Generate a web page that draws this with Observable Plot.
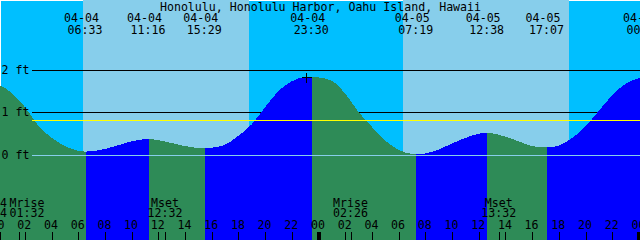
<!DOCTYPE html>
<html><head><meta charset="utf-8">
<script src="https://cdn.jsdelivr.net/npm/d3@7"></script>
<script src="https://cdn.jsdelivr.net/npm/@observablehq/plot@0.6"></script>
<style>
html,body{margin:0;padding:0;background:#fff;overflow:hidden;}
svg{display:block;}
</style></head><body><div id="chart"></div>
<script>
// ---- data ----
const title = "Honolulu, Honolulu Harbor, Oahu Island, Hawaii";

const tideTimes = [
  "2024-04-04T00:00Z","2024-04-04T01:00Z","2024-04-04T02:00Z","2024-04-04T03:00Z","2024-04-04T04:00Z",
  "2024-04-04T05:00Z","2024-04-04T06:00Z","2024-04-04T06:33Z","2024-04-04T07:00Z","2024-04-04T08:00Z",
  "2024-04-04T09:00Z","2024-04-04T10:00Z","2024-04-04T11:00Z","2024-04-04T11:16Z","2024-04-04T12:00Z",
  "2024-04-04T13:00Z","2024-04-04T14:00Z","2024-04-04T15:00Z","2024-04-04T15:29Z","2024-04-04T16:00Z",
  "2024-04-04T17:00Z","2024-04-04T18:00Z","2024-04-04T19:00Z","2024-04-04T20:00Z","2024-04-04T21:00Z",
  "2024-04-04T22:00Z","2024-04-04T23:00Z","2024-04-04T23:30Z","2024-04-05T00:00Z","2024-04-05T01:00Z",
  "2024-04-05T02:00Z","2024-04-05T03:00Z","2024-04-05T04:00Z","2024-04-05T05:00Z","2024-04-05T06:00Z",
  "2024-04-05T07:00Z","2024-04-05T07:19Z","2024-04-05T08:00Z","2024-04-05T09:00Z","2024-04-05T10:00Z",
  "2024-04-05T11:00Z","2024-04-05T12:00Z","2024-04-05T12:38Z","2024-04-05T13:00Z","2024-04-05T14:00Z",
  "2024-04-05T15:00Z","2024-04-05T16:00Z","2024-04-05T17:00Z","2024-04-05T17:07Z","2024-04-05T18:00Z",
  "2024-04-05T19:00Z","2024-04-05T20:00Z","2024-04-05T21:00Z","2024-04-05T22:00Z","2024-04-05T23:00Z",
  "2024-04-06T00:00Z","2024-04-06T00:25Z"
];
const tideLevels = [
  1.66, 1.46, 1.13, 0.69, 0.41,
  0.21, 0.10, 0.08, 0.09, 0.14,
  0.23, 0.32, 0.37, 0.37, 0.35,
  0.28, 0.21, 0.165, 0.155, 0.17,
  0.24, 0.45, 0.72, 1.12, 1.50,
  1.73, 1.83, 1.84, 1.82, 1.74,
  1.44, 1.01, 0.66, 0.34, 0.12,
  0.025, 0.014, 0.035, 0.13, 0.27,
  0.40, 0.50, 0.52, 0.51, 0.43,
  0.32, 0.21, 0.18, 0.18, 0.22,
  0.40, 0.67, 1.04, 1.40, 1.67,
  1.80, 1.82
];

const eventTimes = ["2024-04-04T06:33Z","2024-04-04T11:16Z","2024-04-04T15:29Z","2024-04-04T23:30Z",
                    "2024-04-05T07:19Z","2024-04-05T12:38Z","2024-04-05T17:07Z","2024-04-06T00:25Z"];
const eventTypes = ["L","H","L","H","L","H","L","H"];

const sunrises = ["2024-04-04T06:22Z","2024-04-05T06:21Z"];
const sunsets  = ["2024-04-04T18:47Z","2024-04-05T18:47Z"];

const moonTimes = ["2024-04-04T01:32Z","2024-04-04T12:32Z","2024-04-05T02:26Z","2024-04-05T13:32Z"];
const moonNames = ["Mrise","Mset","Mrise","Mset"];
const edgeFragments = ["4","4"];

const days = ["2024-04-04","2024-04-05","2024-04-06"];
const hourLabels = ["00","02","04","06","08","10","12","14","16","18","20","22"];

const depthLevels = [0, 1, 2];
const meanSeaLevel = 0.82;
const markTime = "2024-04-04T23:06Z";
const markLevel = 1.83;

// ---- colours ----
const NIGHT = "#00BFFF", DAY = "#87CEEB", FLOOD = "#0000FF", EBB = "#2E8B57";

// ---- derived tables ----
const parse = s => new Date(s);
const tide = tideTimes.map((t, i) => ({time: parse(t), level: tideLevels[i]}));
const events = eventTimes.map((t, i) => ({time: parse(t), type: eventTypes[i]}));
const daylight = sunrises.map((s, i) => ({rise: parse(s), set: parse(sunsets[i])}));
const moon = moonTimes.map((t, i) => ({time: parse(t), name: moonNames[i]}));
const fmtDate = d3.utcFormat("%m-%d"), fmtTime = d3.utcFormat("%H:%M");

const xDomain = [parse("2024-04-04T00:08:32Z"), parse("2024-04-06T00:04:56Z")];
const yDomain = [-1.9953, 3.6385];
const inDomain = t => t >= new Date(+xDomain[0] - 3600e3) && t <= new Date(+xDomain[1] + 3600e3);

const hours = [];
days.forEach(day => hourLabels.forEach(h => {
  const t = parse(`${day}T${h}:00Z`);
  if (inDomain(t)) hours.push({time: t, label: h, midnight: h === "00"});
}));

const FONT = "DejaVu Sans Mono";
const FS = 11.6;
const txt = {fontFamily: FONT, fontSize: FS, fill: "black", lineAnchor: "bottom"};

const plot = Plot.plot({
  width: 640, height: 240,
  marginTop: 0, marginRight: 0, marginBottom: 0, marginLeft: 0,
  x: {type: "utc", domain: xDomain, axis: null},
  y: {domain: yDomain, axis: null},
  style: {fontFamily: FONT, fontSize: FS + "px", overflow: "hidden", background: "none"},
  marks: [
    Plot.frame({fill: NIGHT, stroke: "none"}),
    Plot.rect(daylight, {x1: "rise", x2: "set", fill: DAY}),
    Plot.ruleY(depthLevels.filter(d => d > 0), {stroke: "black", insetLeft: 32}),
    Plot.areaY(tide, {x: "time", y1: yDomain[0], y2: "level", fill: "url(#tideFill)", curve: "monotone-x"}),
    Plot.ruleY([0], {stroke: DAY, insetLeft: 32}),
    Plot.ruleY([meanSeaLevel], {stroke: "#FFFF00", insetLeft: 32}),
    Plot.dot([{time: parse(markTime), level: markLevel}], {x: "time", y: "level", symbol: "plus", r: 3.3, stroke: "black", strokeWidth: 1}),
    // title and tide event labels
    Plot.text([title], {...txt, frameAnchor: "top", dy: 10}),
    Plot.text(events, {...txt, x: "time", text: d => fmtDate(d.time), frameAnchor: "top", dy: 21.7, dx: -4.5}),
    Plot.text(events, {...txt, x: "time", text: d => fmtTime(d.time), frameAnchor: "top", dy: 33.3, dx: -1}),
    // depth labels
    Plot.text(depthLevels, {...txt, y: d => d, text: d => `${d} ft`, frameAnchor: "left", textAnchor: "start", dx: 1, dy: 3.5}),
    // moon labels
    Plot.text(moon.slice(0, 1), {...txt, x: "time", text: "name", frameAnchor: "bottom", dy: -34, dx: 8}),
    Plot.text(moon.slice(0, 1), {...txt, x: "time", text: d => fmtTime(d.time), frameAnchor: "bottom", dy: -23.3, dx: 8}),
    Plot.text(moon.slice(1), {...txt, x: "time", text: "name", frameAnchor: "bottom", dy: -34, dx: -1}),
    Plot.text(moon.slice(1), {...txt, x: "time", text: d => fmtTime(d.time), frameAnchor: "bottom", dy: -23.3, dx: -1}),
    Plot.text(edgeFragments.slice(0, 1), {...txt, frameAnchor: "bottom-left", textAnchor: "start", dy: -34, dx: -0.5}),
    Plot.text(edgeFragments.slice(1), {...txt, frameAnchor: "bottom-left", textAnchor: "start", dy: -23.3, dx: -0.5}),
    // hour labels and ticks
    Plot.text(hours, {...txt, x: "time", text: "label", frameAnchor: "bottom", dy: -11.7, dx: -1}),
    Plot.ruleX(hours.filter(d => !d.midnight), {x: "time", stroke: "black", insetTop: 232}),
    Plot.ruleX(hours.filter(d => d.midnight), {x: "time", stroke: "black", strokeWidth: 4, insetTop: 232}),
    Plot.ruleX(moon, {x: "time", stroke: "black", insetTop: 232})
  ]
});

// flood / ebb colouring of the water: horizontal gradient with hard stops at the tide turns
const ns = "http://www.w3.org/2000/svg";
const sx = plot.scale("x");
const toX = t => (sx && sx.apply) ? sx.apply(t) : d3.scaleUtc(xDomain, [0, 640])(t);
const defs = document.createElementNS(ns, "defs");
const grad = document.createElementNS(ns, "linearGradient");
grad.setAttribute("id", "tideFill");
grad.setAttribute("gradientUnits", "userSpaceOnUse");
grad.setAttribute("x1", 0); grad.setAttribute("y1", 0);
grad.setAttribute("x2", 640); grad.setAttribute("y2", 0);
const addStop = (off, col) => {
  const s = document.createElementNS(ns, "stop");
  s.setAttribute("offset", Math.max(0, Math.min(1, off)));
  s.setAttribute("stop-color", col);
  grad.appendChild(s);
};
let current = events[0].type === "L" ? EBB : FLOOD;
addStop(0, current);
events.forEach(e => {
  const off = toX(e.time) / 640;
  const next = e.type === "L" ? FLOOD : EBB;
  addStop(off, current);
  addStop(off, next);
  current = next;
});
addStop(1, current);
defs.appendChild(grad);
plot.insertBefore(defs, plot.firstChild);
plot.setAttribute("shape-rendering", "crispEdges");
document.getElementById("chart").appendChild(plot);
</script>
</body></html>
